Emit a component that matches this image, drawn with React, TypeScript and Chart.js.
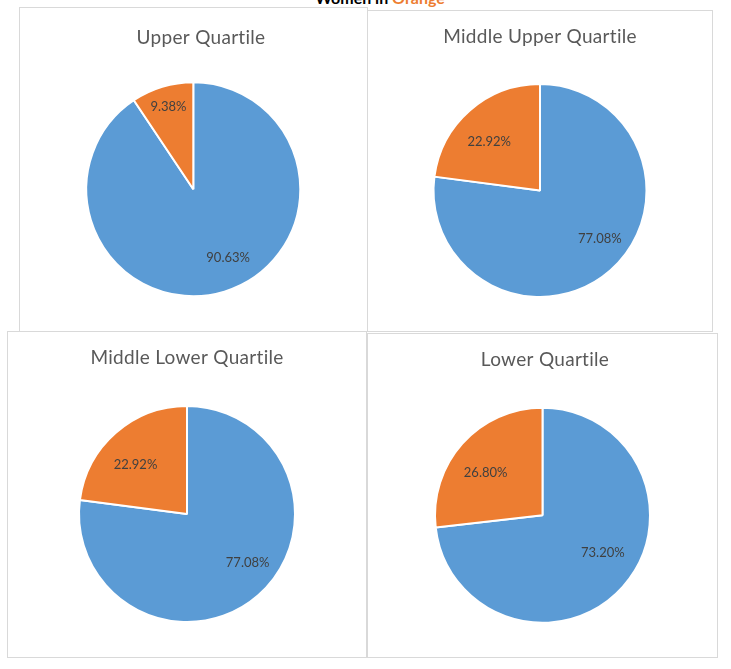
import React, { useEffect, useRef } from 'react';
import Chart from 'chart.js/auto';

// values (percent of each quartile)
const quartiles = ['Upper Quartile', 'Middle Upper Quartile', 'Middle Lower Quartile', 'Lower Quartile'];
const groups = ['Men', 'Women'];
const menShare = [90.63, 77.08, 77.08, 73.2];
const womenShare = [9.38, 22.92, 22.92, 26.8];

const BLUE = '#5B9BD5';
const ORANGE = '#ED7D31';
const FONT = 'Lato, "Open Sans", sans-serif';

// panel frames (page px): left, top, width, height, pie centre, radius, title centre
const frames = [
  { left: 19, top: 7, w: 349, h: 325, cx: 193.3, cy: 189.2, r: 106, tx: 201, ty: 37.5 },
  { left: 367, top: 10, w: 346, h: 322, cx: 540, cy: 190.5, r: 105.5, tx: 540, ty: 36.5 },
  { left: 7, top: 331, w: 360, h: 327, cx: 187, cy: 514, r: 107, tx: 187, ty: 357.5 },
  { left: 367, top: 333, w: 351, h: 325, cx: 542.5, cy: 515.3, r: 106.5, tx: 545, ty: 360 },
];

// no "ti" ligature, a bit closer to the Calibri look
const spacing = {
  id: 'spacing',
  beforeDraw(chart: any) {
    chart.ctx.letterSpacing = '0.3px';
  },
};

// the Excel titles are not always centred over the pie
const titleShift = {
  id: 'titleShift',
  afterLayout(chart: any, _args: any, opts: any) {
    const tb = chart.titleBlock;
    if (tb && opts.dx) {
      tb.left += opts.dx;
      tb.right += opts.dx;
    }
  },
};

const pctLabels = {
  id: 'pctLabels',
  afterDatasetsDraw(chart: any) {
    const ctx = chart.ctx;
    const meta = chart.getDatasetMeta(0);
    const values = chart.data.datasets[0].data as number[];
    ctx.save();
    ctx.font = '13px ' + FONT;
    ctx.letterSpacing = '0px';
    ctx.fillStyle = '#404040';
    ctx.textAlign = 'center';
    ctx.textBaseline = 'middle';
    meta.data.forEach((arc: any, i: number) => {
      const { x, y, startAngle, endAngle, outerRadius } = arc.getProps(
        ['x', 'y', 'startAngle', 'endAngle', 'outerRadius'], true);
      // Excel's best-fit placement leans a little back from the mid angle
      const v = values[i];
      const shift = v > 50 ? 10 : v > 15 ? 5 : 0;
      const mid = (startAngle + endAngle) / 2 - (shift * Math.PI) / 180;
      const k = v < 15 ? 0.8 : v < 75 ? 0.66 : 0.72;
      ctx.fillText(v.toFixed(2) + '%', x + Math.cos(mid) * outerRadius * k, y + Math.sin(mid) * outerRadius * k);
    });
    ctx.restore();
  },
};

const QuartilePie = ({ idx }: { idx: number }) => {
  const chartRef = useRef<HTMLCanvasElement>(null);
  const chartInstanceRef = useRef<Chart>();
  const f = frames[idx];
  const W = f.w - 2;
  const H = f.h - 2;

  useEffect(() => {
    if (!chartRef.current) return;
    const cxi = f.cx - f.left - 1;
    const cyi = f.cy - f.top - 1;
    const tyi = f.ty - f.top - 1;
    const lineH = 38;
    const padL = Math.max(2 * cxi - W, 0);
    const padR = Math.max(W - 2 * cxi, 0);
    const padB = tyi + lineH / 2 + H - 2 * cyi;

    chartInstanceRef.current = new Chart(chartRef.current, {
      type: 'pie',
      data: {
        labels: groups,
        datasets: [{
          data: [menShare[idx], womenShare[idx]],
          backgroundColor: [BLUE, ORANGE],
          borderColor: '#ffffff',
          borderWidth: 2,
        }],
      },
      options: {
        responsive: true,
        maintainAspectRatio: false,
        animation: false,
        radius: f.r + 1,
        layout: { padding: { left: padL, right: padR, top: 0, bottom: padB } },
        plugins: {
          legend: { display: false },
          tooltip: { enabled: false },
          titleShift: { dx: f.tx - f.cx },
          title: {
            display: true,
            text: quartiles[idx],
            color: '#595959',
            font: { family: FONT, size: 19, weight: 'normal', lineHeight: lineH / 19 },
            padding: { top: tyi - lineH / 2, bottom: 0 },
          },
        },
      } as any,
      plugins: [spacing, titleShift, pctLabels],
    });

    return () => {
      if (chartInstanceRef.current) {
        chartInstanceRef.current.destroy();
      }
    };
  }, [idx]);

  return (
    <div style={{
      position: 'absolute', left: f.left, top: f.top, width: f.w, height: f.h,
      boxSizing: 'border-box', border: '1px solid #d9d9d9', background: '#fff',
    }}>
      <div style={{ position: 'relative', width: W, height: H }}>
        <canvas ref={chartRef} />
      </div>
    </div>
  );
};

const App = () => (
  <div style={{ position: 'absolute', left: 0, top: 0, width: 731, height: 669, background: '#fff', overflow: 'hidden' }}>
    <div style={{
      position: 'absolute', left: 0, width: 760, top: -10, textAlign: 'center',
      font: 'bold 16px ' + FONT, lineHeight: '16px', color: '#000',
    }}>
      Women in <span style={{ color: ORANGE }}>Orange</span>
    </div>
    {quartiles.map((_, i) => <QuartilePie key={i} idx={i} />)}
  </div>
);

export default App;
